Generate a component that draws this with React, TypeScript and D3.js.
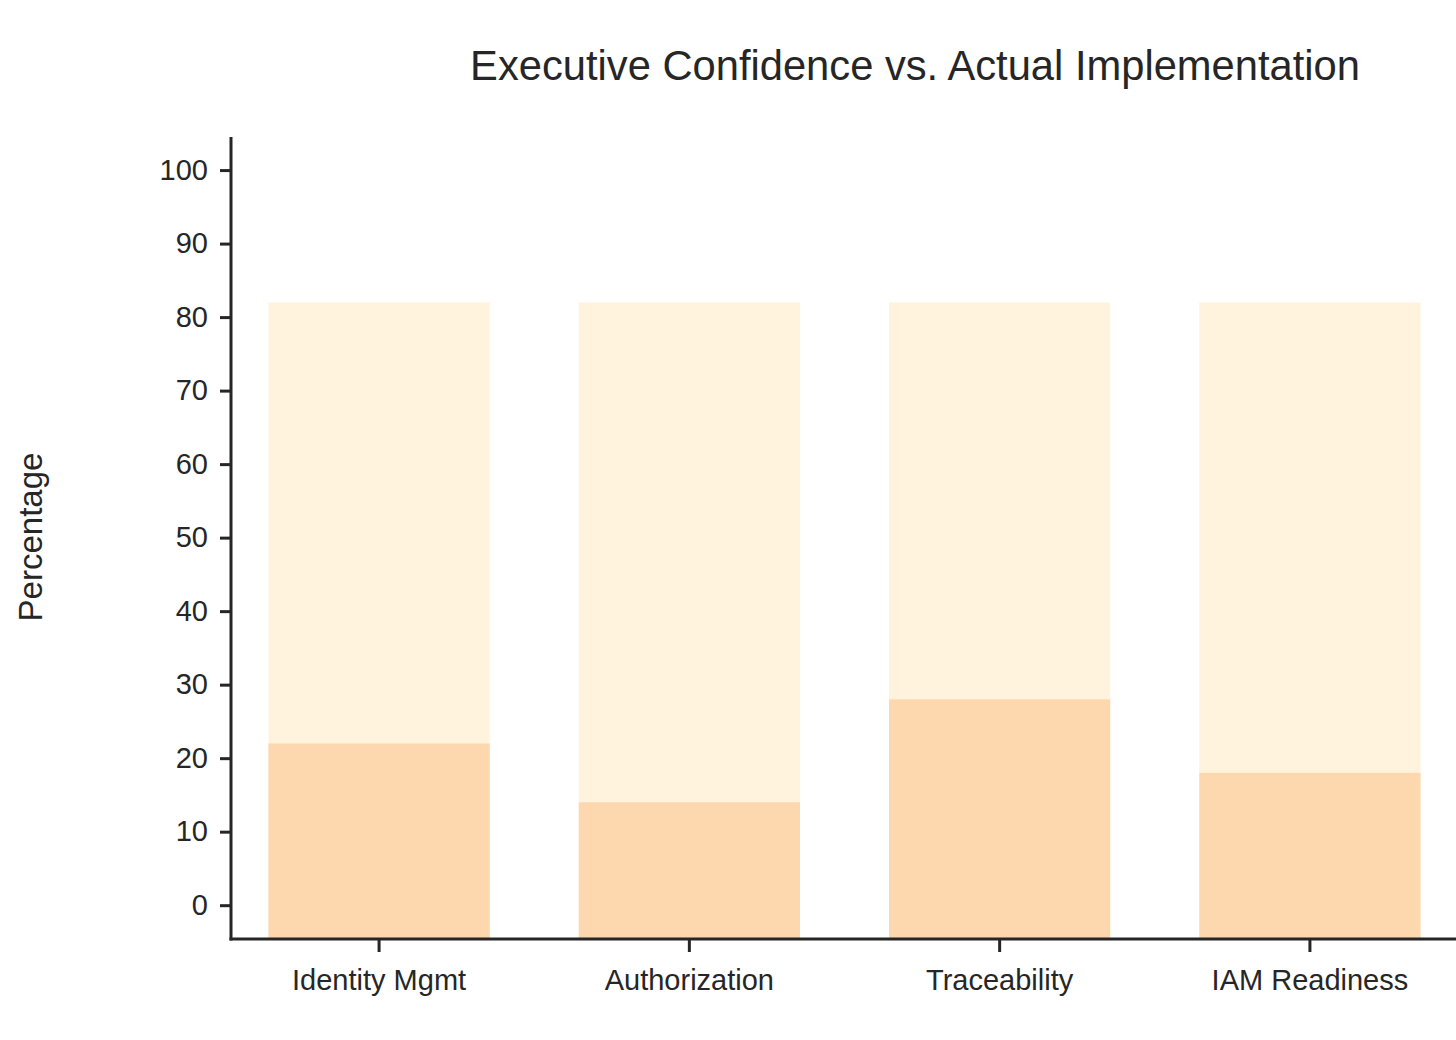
import { useEffect, useRef } from "react";
import * as d3 from "d3";

// -----------------------------
// Data
// -----------------------------
const categories = ["Identity Mgmt", "Authorization", "Traceability", "IAM Readiness"];
const confidence = [82, 82, 82, 82];
const implementation = [22, 14, 28, 18];
const yTicks = [0, 10, 20, 30, 40, 50, 60, 70, 80, 90, 100];

export default function App() {
  const ref = useRef<SVGSVGElement>(null);

  useEffect(() => {
    if (!ref.current) return;
    const svg = d3.select(ref.current);
    svg.selectAll("*").remove();

    const ink = "#262626";
    const font = "'Liberation Sans', Arial, Helvetica, sans-serif";

    const left = 232;
    const right = 1457;
    const top = 137;
    const bottom = 939;

    // -----------------------------
    // Scales
    // -----------------------------
    const x = d3
      .scaleBand<string>()
      .domain(categories)
      .range([left, right])
      .paddingInner(0.287)
      .paddingOuter(0.1175);

    const y = d3.scaleLinear().domain([-4.6, 104.5]).range([bottom, top]);

    // -----------------------------
    // Bars (confidence behind, implementation in front)
    // -----------------------------
    svg
      .append("g")
      .selectAll("rect")
      .data(categories)
      .join("rect")
      .attr("x", (d) => x(d)!)
      .attr("width", x.bandwidth())
      .attr("y", (_, i) => y(confidence[i]))
      .attr("height", (_, i) => y(-4.6) - y(confidence[i]))
      .attr("fill", "#FFF3DE");

    svg
      .append("g")
      .selectAll("rect")
      .data(categories)
      .join("rect")
      .attr("x", (d) => x(d)!)
      .attr("width", x.bandwidth())
      .attr("y", (_, i) => y(implementation[i]))
      .attr("height", (_, i) => y(-4.6) - y(implementation[i]))
      .attr("fill", "#FDD7AE");

    // -----------------------------
    // Y axis
    // -----------------------------
    const yAxis = svg
      .append("g")
      .attr("transform", `translate(${left - 1},0)`)
      .call(d3.axisLeft(y).tickValues(yTicks).tickSize(11).tickPadding(12));
    yAxis.select(".domain").remove();
    yAxis.selectAll("line").attr("stroke", ink).attr("stroke-width", 3);
    yAxis
      .selectAll("text")
      .attr("fill", ink)
      .style("font-size", "29px")
      .style("font-family", font);

    svg
      .append("line")
      .attr("x1", left - 1)
      .attr("x2", left - 1)
      .attr("y1", top)
      .attr("y2", bottom + 1.5)
      .attr("stroke", ink)
      .attr("stroke-width", 3);

    // -----------------------------
    // X axis
    // -----------------------------
    const xAxis = svg
      .append("g")
      .attr("transform", `translate(0,${bottom})`)
      .call(d3.axisBottom(x).tickSize(13).tickPadding(17));
    xAxis.select(".domain").remove();
    xAxis.selectAll("line").attr("stroke", ink).attr("stroke-width", 3);
    xAxis
      .selectAll("text")
      .attr("fill", ink)
      .style("font-size", "29px")
      .style("font-family", font);

    svg
      .append("line")
      .attr("x1", left - 2.5)
      .attr("x2", 1456)
      .attr("y1", bottom)
      .attr("y2", bottom)
      .attr("stroke", ink)
      .attr("stroke-width", 3);

    // -----------------------------
    // Titles
    // -----------------------------
    svg
      .append("text")
      .attr("x", 915)
      .attr("y", 80)
      .attr("text-anchor", "middle")
      .attr("fill", ink)
      .style("font-size", "41.7px")
      .style("font-family", font)
      .text("Executive Confidence vs. Actual Implementation");

    svg
      .append("text")
      .attr("transform", `translate(42,${(y(-4.6) + y(104.5)) / 2 - 1}) rotate(-90)`)
      .attr("text-anchor", "middle")
      .attr("fill", ink)
      .style("font-size", "33px")
      .style("font-family", font)
      .text("Percentage");
  }, []);

  return (
    <svg
      ref={ref}
      width={1456}
      height={1040}
      style={{ position: "absolute", left: 0, top: 0, background: "white" }}
    />
  );
}
